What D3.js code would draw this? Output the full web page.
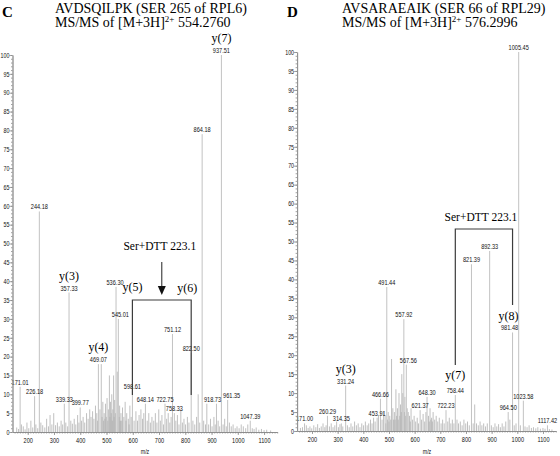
<!DOCTYPE html>
<html><head><meta charset="utf-8">
<script src="https://cdn.jsdelivr.net/npm/d3@7"></script>
<style>body{margin:0;background:#fff}svg{display:block}</style>
</head><body>
<svg id="chart" width="560" height="456"></svg>
<script>
// ---------- DATA ----------
const yTickValues = d3.range(0, 101, 5);
const xTickValues = [200, 300, 400, 500, 600, 700, 800, 900, 1000, 1100];

// Panel C: labelled peaks [m/z, relative abundance]
const cPeaks = [[171.01,12],[226.18,9.5],[244.18,58.5],[339.33,7.5],[357.33,37],[399.77,6.5],[469.07,18],[536.30,38.5],[545.01,30],[598.61,11],[648.14,7.5],[722.75,7.5],[751.12,26],[758.33,5],[822.50,21],[864.18,79],[918.73,7.5],[937.51,100],[961.35,8.5],[1047.39,3]];
const cMinor = [[158,1.2],[165,0.8],[176,2],[183,1.5],[190,0.7],[197,2.5],[204,1],[212,3],[219,1.2],[231,2],[238,1],[250,2.5],[257,1.8],[265,1.2],[272,3.5],[279,1.5],[285,4.5],[292,2],[299,5],[306,1.8],[313,2.5],[320,1.5],[327,3],[333,2],[345,2.5],[352,1.5],[364,3],[370,2.2],[377,3.5],[383,2],[390,4.5],[395,2.5],[405,3],[411,4],[417,2.5],[424,5],[430,3.5],[436,6],[441,4],[447,5.5],[452,3.5],[458,7],[463,5],[466,3],[475,6],[480,18],[483,4],[486,8],[489,3],[491,5],[494,3.5],[496,7.5],[499,4],[502,9],[505,3],[507,6],[511,15],[513,4],[515,8],[518,5],[520,10],[522,3],[524,6],[527,15],[529,4],[531,8.5],[534,5],[541,16],[548,4],[550,7],[553,3],[555,5],[558,3],[561,6.5],[566,4],[571,8],[574,3],[577,5],[583,3.5],[586,2],[589,7],[594,4],[605,3],[612,5.5],[618,3],[624,4.5],[631,6],[637,3.5],[642,5],[655,3],[661,5],[667,2.5],[673,4],[680,3],[686,5],[692,2.5],[699,6],[705,3],[711,4.5],[717,2],[729,3.5],[735,5],[741,2.5],[746,4],[764,3],[770,4.5],[776,2],[783,6],[789,2.5],[795,3.5],[801,2],[808,4],[814,2.5],[829,3],[836,2],[843,4],[849,10],[855,2.5],[870,3],[877,2],[882,7.5],[889,2],[896,3.5],[902,1.5],[909,4],[914,2],[925,3],[931,1.5],[944,2],[950,3.5],[956,1.5],[968,2.5],[975,1.5],[982,2],[990,1],[997,1.5],[1005,1],[1013,2],[1021,1.5],[1030,1],[1038,2],[1055,1],[1062,0.8],[1070,1.2],[1080,0.6],[1090,0.8],[1100,0.5],[1110,0.6],[1125,0.4]];
const cIons = [["y(3)",357.33,37],["y(4)",469.07,18],["y(7)",937.51,100]];
const cBracketIons = [["y(5)",598.61],["y(6)",822.50]];

// Panel D
const dPeaks = [[171.00,2],[260.29,4],[314.35,2],[331.24,12],[453.91,3.5],[466.66,8.5],[491.44,38],[557.92,29.5],[567.56,17.5],[621.37,5.5],[648.30,9],[722.23,5.5],[758.44,9.5],[821.39,44],[892.33,47.5],[964.50,5],[981.48,26],[1005.45,100],[1023.58,8],[1117.42,1.5]];
const dMinor = [[155,0.8],[163,1],[178,1.5],[185,0.8],[192,1.2],[199,0.7],[207,1.5],[215,1],[222,1.8],[229,0.8],[236,1.2],[243,2],[250,1],[255,1.5],[268,1.2],[275,2],[282,1],[289,1.5],[296,2.5],[303,1],[309,1.8],[320,1.2],[338,1.5],[345,1],[352,2],[359,1.2],[366,2.5],[373,1.5],[380,2],[387,1],[394,2],[401,1.5],[408,2.5],[415,1.5],[421,2],[428,3],[434,2],[440,3.5],[446,2.5],[459,4],[473,3],[479,5],[485,4],[488,2],[494,3],[497,5],[500,2.5],[503,4],[507,3],[510,19],[515,6],[518,3],[521,5],[524,3],[527,11],[530,4],[533,6],[536,3],[539,10],[542,4],[545,7],[548,5],[550,15],[554,10],[560,5],[562,9],[565,4],[571,6],[575,5],[580,4],[583,2.5],[586,6],[592,3],[598,4],[604,2.5],[610,3.5],[615,2],[627,3],[633,4.5],[639,2.5],[644,5],[654,4],[657,2.5],[660,6],[663,3],[666,3.5],[669,2.5],[672,5],[678,3],[684,4],[690,2.5],[696,3.5],[703,2],[709,3],[715,2],[729,2.5],[735,3.5],[741,2],[747,3],[753,2],[765,3],[771,2],[778,2.5],[785,1.5],[792,3],[799,2],[806,2.5],[813,1.5],[828,2],[834,7],[841,2],[848,1.5],[855,2.5],[862,1.5],[869,2],[876,1.2],[883,2],[899,1.5],[906,1],[913,2],[920,1.2],[927,1.8],[934,1],[941,2],[948,1.2],[955,2.5],[971,3],[988,1.5],[995,2],[1012,1.5],[1030,1.2],[1038,1],[1046,1.5],[1055,0.8],[1063,1],[1072,0.7],[1080,1],[1090,0.6],[1100,0.8],[1108,0.6],[1125,0.5],[1135,0.4]];
const dIons = [["y(3)",331.24,12]];
const dBracketIons = [["y(7)",758.44],["y(8)",981.48]];

const bracketLabel = "Ser+DTT 223.1";

// layout nudges for crowded peak labels (pixels, keyed by m/z)
const labelNudgeC = {"918.73": -4, "961.35": 4, "536.30": -1, "545.01": 2};
const labelNudgeD = {"557.92": 0, "567.56": 2, "981.48": -3};

// ---------- DRAW ----------
const svg = d3.select("#chart");
const SMALL = "'Liberation Sans Narrow','Arial Narrow','Liberation Sans',Arial,sans-serif";
const SERIF = "'Liberation Serif','Times New Roman',serif";
const SQ = 0.8;

function smallText(g, x, y, txt, size, anchor) {
  return g.append("text")
    .attr("transform", `translate(${x},${y}) scale(${SQ},1)`)
    .attr("text-anchor", anchor || "middle")
    .attr("font-family", SMALL).attr("font-size", size || 7)
    .attr("fill", "#111").text(txt);
}

function panel(p) {
  const g = svg.append("g");
  const x = d3.scaleLinear().domain([142, 1150]).range([p.x0, p.x1]);
  const y = d3.scaleLinear().domain([0, 100]).range([p.y0, p.y100]);

  // titles
  g.append("text").attr("x", p.letterX).attr("y", 17).attr("font-family", SERIF)
    .attr("font-weight", "bold").attr("font-size", 15).text(p.letter);
  g.append("text").attr("x", p.titleX).attr("y", 12.5).attr("font-family", SERIF)
    .attr("font-size", 14).text(p.title1);
  const t2 = g.append("text").attr("x", p.titleX).attr("y", 27).attr("font-family", SERIF)
    .attr("font-size", 14);
  t2.append("tspan").text(p.title2a);
  t2.append("tspan").attr("font-size", 9).attr("dy", -5).text("2+");
  t2.append("tspan").attr("dy", 5).text(" " + p.title2b);

  // minor noise peaks
  g.append("g").selectAll("line").data(p.minor).join("line")
    .attr("x1", d => x(d[0])).attr("x2", d => x(d[0]))
    .attr("y1", y(0)).attr("y2", d => y(d[1]))
    .attr("stroke", "#b0b0b0").attr("stroke-width", 0.8);
  // labelled peaks
  g.append("g").selectAll("line").data(p.peaks).join("line")
    .attr("x1", d => x(d[0])).attr("x2", d => x(d[0]))
    .attr("y1", y(0)).attr("y2", d => y(d[1]))
    .attr("stroke", "#c2c2c2").attr("stroke-width", 1);
  p.peaks.forEach(d => {
    const key = d[0].toFixed(2);
    smallText(g, x(d[0]) + (p.nudge[key] || 0), y(d[1]) - 2, key, 7);
  });

  // ion labels above peak labels
  p.ions.forEach(d => g.append("text").attr("x", x(d[1])).attr("y", y(d[2]) - 13)
    .attr("text-anchor", "middle").attr("font-family", SERIF).attr("font-size", 12).text(d[0]));

  // axes
  const yAxis = g.append("g").attr("transform", `translate(${p.x0},0)`)
    .call(d3.axisLeft(y).tickValues(yTickValues).tickSize(3).tickSizeOuter(0).tickPadding(1).tickFormat(d3.format("d")));
  g.append("g").attr("transform", `translate(${p.x0},0)`)
    .call(d3.axisLeft(y).tickValues(d3.range(0, 101, 1)).tickSize(1.5).tickSizeOuter(0).tickFormat(""));
  const xAxis = g.append("g").attr("transform", `translate(0,${p.y0})`)
    .call(d3.axisBottom(x).tickValues(xTickValues).tickSize(3).tickSizeOuter(0).tickPadding(3).tickFormat(d3.format("d")));
  g.append("g").attr("transform", `translate(0,${p.y0})`)
    .call(d3.axisBottom(x).tickValues(d3.range(150, 1151, 10)).tickSize(1.5).tickSizeOuter(0).tickFormat(""));
  g.selectAll(".domain, .tick line").attr("stroke", "#8a8a8a").attr("stroke-width", 0.8);
  [yAxis, xAxis].forEach(a => a.selectAll("text")
    .attr("font-family", SMALL).attr("font-size", 7).attr("fill", "#111"));
  yAxis.selectAll("text").attr("transform", `scale(0.76,1)`);
  xAxis.selectAll("text").attr("transform", `scale(${SQ},1)`);
  smallText(g, p.mzX, 454, "m/z", 6.5);

  // bracket
  const bx1 = x(p.bracket[0][1]), bx2 = x(p.bracket[1][1]);
  const bk = g.append("g").attr("stroke", "#3c3c3c").attr("stroke-width", 1.2).attr("fill", "none");
  bk.append("path").attr("d",
    `M${bx1},${p.bLeftBottom} V${p.bTop} H${bx2} V${p.bRightBottom}`);
  g.append("text").attr("x", (bx1 + bx2) / 2 + p.bLabelDx).attr("y", p.bLabelY)
    .attr("text-anchor", "middle").attr("font-family", SERIF).attr("font-size", 11.5).text(bracketLabel);
  p.bracket.forEach((d, i) => g.append("text").attr("x", (i ? bx2 : bx1) + p.ionDx[i]).attr("y", p.ionY[i])
    .attr("text-anchor", "middle").attr("font-family", SERIF).attr("font-size", 12).text(d[0]));
  if (p.arrow) {
    const ax = (bx1 + bx2) / 2;
    g.append("line").attr("x1", ax).attr("x2", ax).attr("y1", 262).attr("y2", 288)
      .attr("stroke", "#222").attr("stroke-width", 1);
    g.append("path").attr("d", `M${ax - 4},286 L${ax + 4},286 L${ax},295 Z`).attr("fill", "#111");
  }
}

panel({
  letter: "C", letterX: 2, titleX: 55,
  title1: "AVDSQILPK (SER 265 of RPL6)", title2a: "MS/MS of [M+3H]", title2b: "554.2760",
  x0: 12.5, x1: 277.2, y0: 432, y100: 55, nudge: labelNudgeC,
  peaks: cPeaks, minor: cMinor, ions: cIons, bracket: cBracketIons,
  bTop: 300, bLeftBottom: 395, bRightBottom: 395, bLabelY: 250, bLabelDx: -2,
  ionY: [291, 292], ionDx: [0, -4], arrow: true, mzX: 145
});
panel({
  letter: "D", letterX: 287, titleX: 342,
  title1: "AVSARAEAIK (SER 66 of RPL29)", title2a: "MS/MS of [M+3H]", title2b: "576.2996",
  x0: 297.1, x1: 555.8, y0: 431, y100: 52, nudge: labelNudgeD,
  peaks: dPeaks, minor: dMinor, ions: dIons, bracket: dBracketIons,
  bTop: 229, bLeftBottom: 365, bRightBottom: 305, bLabelY: 221, bLabelDx: -3,
  ionY: [379, 320], ionDx: [0, -4], arrow: false, mzX: 427
});
</script>
</body></html>
